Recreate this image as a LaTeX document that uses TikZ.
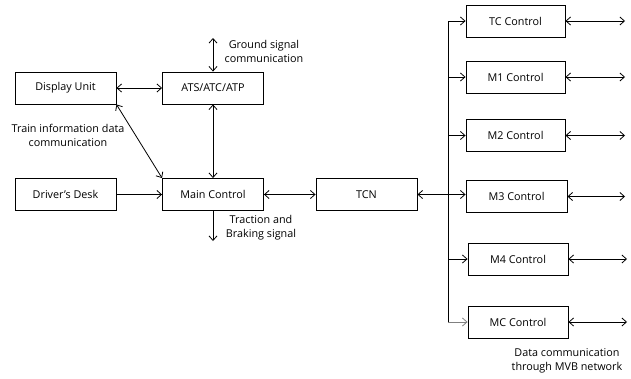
\documentclass[tikz,border=0pt]{standalone}
\usepackage{fontspec}
\setmainfont{Open Sans}
\usetikzlibrary{arrows.meta}
\begin{document}
\begin{tikzpicture}[x=1pt,y=-1pt,
  box/.style={draw,line width=0.9pt,minimum width=101pt,minimum height=32pt,inner sep=0pt,font=\fontsize{10.8}{13}\selectfont},
  lbl/.style={font=\fontsize{10.8}{14}\selectfont,align=center,inner sep=0pt},
  conn/.style={line width=0.8pt,{Straight Barb[length=4.5pt,width=8pt]}-{Straight Barb[length=4.5pt,width=8pt]}},
  one/.style={line width=0.8pt,-{Straight Barb[length=4.5pt,width=8pt]}}]
\useasboundingbox (0,0) rectangle (631,378);
\node[box] (du) at (65.5,88) {Display Unit};
\node[box] (ats) at (213,88) {ATS/ATC/ATP};
\node[box] (dd) at (65.5,194.5) {Driver's Desk};
\node[box] (mc) at (213,194.5) {Main Control};
\node[box] (tcn) at (366.5,194.5) {TCN};
\node[box,minimum width=99pt] (tc) at (515.5,21) {TC Control};
\node[box,minimum width=99pt] (m1) at (515.5,77) {M1 Control};
\node[box,minimum width=99pt] (m2) at (515.5,135.5) {M2 Control};
\node[box] (m3) at (516.5,196.5) {M3 Control};
\node[box,minimum width=100pt] (m4) at (518,259) {M4 Control};
\node[box,minimum width=100pt] (mcc) at (518,322) {MC Control};
\coordinate (gs) at (213,38);
\coordinate (tr) at (213,241);
\coordinate (bt) at (448,21);
\coordinate (b1) at (448,77);
\coordinate (b2) at (448,135.5);
\coordinate (b4) at (448,259);
\coordinate (bb) at (448,322);
\coordinate (rtc) at (625,21);
\coordinate (rm1) at (625,77);
\coordinate (rm2) at (625,135.5);
\coordinate (rm3) at (625,196.5);
\coordinate (rm4) at (627,259);
\coordinate (rmc) at (627,322);
\draw[conn] (du) -- (ats);
\draw[conn] (ats) -- (gs);
\draw[conn] (du.south east) -- (mc.north west);
\draw[conn] (ats) -- (mc);
\draw[one] (dd) -- (mc);
\draw[one] (mc) -- (tr);
\draw[conn] (mc) -- (tcn);
\draw[conn] (tcn.east) -- (m3.west |- tcn.east);
\draw[line width=0.8pt] (bt) -- (bb);
\draw[one] (bt) -- (tc.west);
\draw[one] (b1) -- (m1.west);
\draw[one] (b2) -- (m2.west);
\draw[one] (b4) -- (m4.west);
\draw[one,gray] (bb) -- (mcc.west);
\draw[conn] (tc.east) -- (rtc);
\draw[conn] (m1.east) -- (rm1);
\draw[conn] (m2.east) -- (rm2);
\draw[conn] (m3.east) -- (rm3);
\draw[conn] (m4.east) -- (rm4);
\draw[conn] (mcc.east) -- (rmc);
\node[lbl] (gsl) at (264,51) {Ground signal\\communication};
\node[lbl] (til) at (68,135) {Train information data\\communication};
\node[lbl] (trl) at (261,228) {Traction and\\Braking signal};
\node[lbl] (mvb) at (567,361) {Data communication\\through MVB network};
\end{tikzpicture}
\end{document}
